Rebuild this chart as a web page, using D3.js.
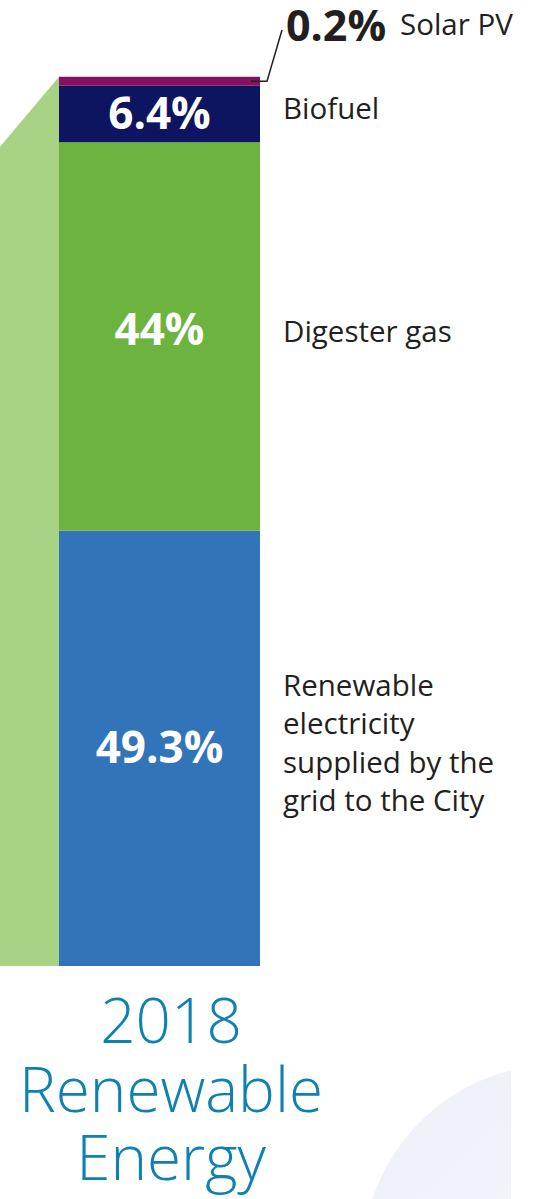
<!DOCTYPE html>
<html>
<head>
<meta charset="utf-8">
<script src="https://cdn.jsdelivr.net/npm/d3@7"></script>
<style>
  body { margin: 0; background: #fff; }
  svg { display: block; }
</style>
</head>
<body>
<div id="chart"></div>
<script>
// data, stacked from the bottom up
var sources = ["Renewable electricity supplied by the grid to the City", "Digester gas", "Biofuel", "Solar PV"];
var shares = [49.3, 44, 6.4, 0.2];
var shareLabels = ["49.3%", "44%", "6.4%", "0.2%"];
var labelLines = [["Renewable", "electricity", "supplied by the", "grid to the City"], ["Digester gas"], ["Biofuel"], ["Solar PV"]];
var colors = ["#3174b9", "#6db33f", "#0d1560", "#831262"];
var titleLines = ["2018", "Renewable", "Energy"];

var width = 541, height = 1199;
var barLeft = 59, barRight = 260, barBottom = 966, barTop = 84;
var minH = 9;

var svg = d3.select("#chart")
  .append("svg")
    .attr("width", width)
    .attr("height", height);

// faint circle in the corner
var grad = svg.append("defs").append("linearGradient")
    .attr("id", "circ").attr("x1", 0).attr("y1", 0).attr("x2", 1).attr("y2", 1);
grad.append("stop").attr("offset", "0%").attr("stop-color", "#edf1f8");
grad.append("stop").attr("offset", "100%").attr("stop-color", "#f6f8fb");
svg.append("clipPath").attr("id", "cut")
  .append("rect").attr("x", 0).attr("y", 0).attr("width", 511).attr("height", height);
svg.append("circle")
    .attr("cx", 560).attr("cy", 1262).attr("r", 198)
    .attr("clip-path", "url(#cut)")
    .style("fill", "url(#circ)");

var y = d3.scaleLinear()
  .domain([0, d3.sum(shares)])
  .range([barBottom, barTop]);

var x = d3.scaleBand()
  .domain(["2018"])
  .range([barLeft, barRight])
  .padding(0);

// stacked segments
var cum = 0;
var segs = shares.map(function(v, i) {
  var s = { i: i, y0: y(cum), y1: y(cum + v) };
  if (s.y0 - s.y1 < minH) s.y1 = s.y0 - minH;
  cum += v;
  return s;
});

// light green side panel
var stackTop = segs[segs.length - 1].y1;
svg.append("path")
    .attr("d", d3.line()([[0, stackTop + 70], [x("2018"), stackTop], [x("2018"), barBottom], [0, barBottom]]))
    .style("fill", "#a9d384");

svg.append("g")
  .selectAll("rect")
  .data(segs)
  .enter()
  .append("rect")
    .attr("x", x("2018"))
    .attr("width", x.bandwidth())
    .attr("y", function(d) { return d.y1; })
    .attr("height", function(d) { return d.y0 - d.y1; })
    .style("fill", function(d) { return colors[d.i]; });

// values inside the bar
svg.append("g")
  .selectAll("text")
  .data(segs.slice(0, 3))
  .enter()
  .append("text")
    .attr("x", x("2018") + x.bandwidth() / 2)
    .attr("y", function(d) { return (d.y0 + d.y1) / 2 + (d.i === 1 ? 8 : 15); })
    .attr("text-anchor", "middle")
    .style("font-family", "'Open Sans', sans-serif")
    .style("font-weight", 700)
    .style("font-size", "44px")
    .style("fill", "#fff")
    .text(function(d) { return shareLabels[d.i]; });

// category labels
var lineH = 38.5;
var labels = svg.append("g")
  .selectAll("text")
  .data(segs.slice(0, 3))
  .enter()
  .append("text")
    .attr("x", 283)
    .attr("y", function(d) {
      var n = labelLines[d.i].length;
      return (d.y0 + d.y1) / 2 - (n - 1) / 2 * lineH + 5;
    })
    .style("font-family", "'Open Sans', sans-serif")
    .style("font-size", "29.5px")
    .style("fill", "#231f20");
labels.selectAll("tspan")
  .data(function(d) { return labelLines[d.i]; })
  .enter()
  .append("tspan")
    .attr("x", 283)
    .attr("dy", function(d, j) { return j ? lineH : 0; })
    .text(function(d) { return d; });

// small slice called out above the bar
var solar = segs[3];
var sy = (solar.y0 + solar.y1) / 2;
svg.append("path")
    .attr("d", d3.line()([[251, sy], [267, sy], [282, 30]]))
    .style("fill", "none")
    .style("stroke", "#231f20")
    .style("stroke-width", 1.5);
svg.append("text")
    .attr("x", 286).attr("y", 41)
    .style("font-family", "'Open Sans', sans-serif")
    .style("font-weight", 700)
    .style("font-size", "43px")
    .style("fill", "#231f20")
    .text(shareLabels[3]);
svg.append("text")
    .attr("x", 400).attr("y", 35)
    .style("font-family", "'Open Sans', sans-serif")
    .style("font-size", "29.5px")
    .style("fill", "#231f20")
    .text(labelLines[3][0]);

// title
svg.append("g")
  .selectAll("text")
  .data(titleLines)
  .enter()
  .append("text")
    .attr("x", 171)
    .attr("y", function(d, i) { return 1043 + i * 68.5; })
    .attr("text-anchor", "middle")
    .style("font-family", "'Open Sans', sans-serif")
    .style("font-weight", 300)
    .style("font-size", "62px")
    .style("fill", "#0e80b2")
    .text(function(d) { return d; });
</script>
</body>
</html>
